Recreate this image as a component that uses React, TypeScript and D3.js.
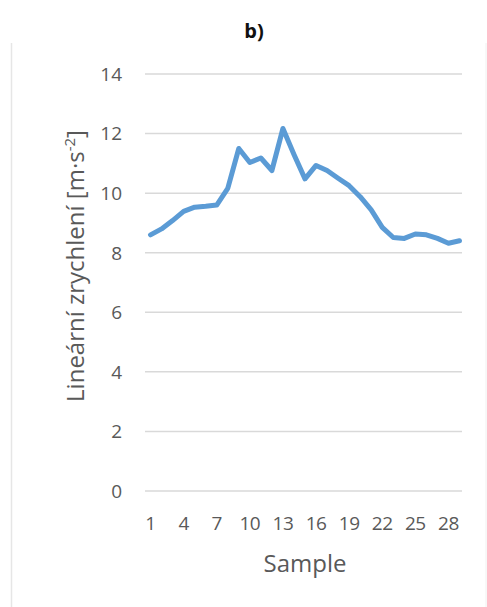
import React from "react";
import * as d3 from "d3";

const samples: number[] = Array.from({ length: 29 }, (_, i) => i + 1);
const values: number[] = [
  8.6, 8.8, 9.08, 9.39, 9.53, 9.56, 9.6, 10.16, 11.5, 11.03, 11.18, 10.76, 12.17,
  11.3, 10.48, 10.93, 10.76, 10.5, 10.25, 9.88, 9.44, 8.85, 8.51, 8.48, 8.63, 8.6,
  8.48, 8.32, 8.4,
];
const yTicks: number[] = [0, 2, 4, 6, 8, 10, 12, 14];
const xTickLabels: number[] = [1, 4, 7, 10, 13, 16, 19, 22, 25, 28];
const title = "b)";
const xTitle = "Sample";
const yTitle = "Lineární zrychlení [m·s";
const yTitleSup = "-2";

export default function App() {
  const W = 487;
  const H = 607;
  const left = 145;
  const right = 465;
  const top = 74;
  const bottom = 491;

  const x = d3
    .scaleBand<number>()
    .domain(samples)
    .range([left, right])
    .padding(0);
  const y = d3.scaleLinear().domain([0, 14]).range([bottom, top]);
  const cx = (s: number) => (x(s) as number) + x.bandwidth() / 2;

  const line = d3
    .line<number>()
    .x((_, i) => cx(samples[i]))
    .y((d) => y(d))
    .curve(d3.curveLinear);

  const font = "'Open Sans', 'Noto Sans', sans-serif";
  const tickColor = "#595959";

  return (
    <svg
      width={W}
      height={H}
      style={{ position: "absolute", left: 0, top: 0, background: "#fff" }}
    >
      <rect x={0} y={0} width={W} height={H} fill="#fff" />
      <line x1={11.5} x2={11.5} y1={43} y2={H} stroke="#e6e6e6" strokeWidth={1.5} />
      <line x1={486} x2={486} y1={43} y2={H} stroke="#f0f0f0" strokeWidth={1} />
      <text
        x={254}
        y={38}
        textAnchor="middle"
        fontFamily={font}
        fontWeight="bold"
        fontSize={20}
        fill="#111"
      >
        {title}
      </text>
      {yTicks.map((t) => (
        <g key={t}>
          <line
            x1={left}
            x2={right - 3}
            y1={y(t)}
            y2={y(t)}
            stroke="#d9d9d9"
            strokeWidth={1.5}
          />
          <text
            x={122}
            y={y(t)}
            dy="0.36em"
            textAnchor="end"
            fontFamily={font}
            fontSize={19}
            fill={tickColor}
          >
            {t}
          </text>
        </g>
      ))}
      {xTickLabels.map((s) => (
        <text
          key={s}
          x={cx(s)}
          y={530}
          textAnchor="middle"
          fontFamily={font}
          fontSize={19}
          letterSpacing={-0.5}
          fill={tickColor}
        >
          {s}
        </text>
      ))}
      <text
        x={305}
        y={572}
        textAnchor="middle"
        fontFamily={font}
        fontSize={24}
        fill={tickColor}
      >
        {xTitle}
      </text>
      <text
        transform={`translate(84,266) rotate(-90)`}
        textAnchor="middle"
        fontFamily={font}
        fontSize={24}
        fill={tickColor}
      >
        {yTitle}
        <tspan fontSize={15} dy={-9}>
          {yTitleSup}
        </tspan>
        <tspan dy={9}>]</tspan>
      </text>
      <path
        d={line(values) || ""}
        fill="none"
        stroke="#5b9bd5"
        strokeWidth={5}
        strokeLinejoin="round"
        strokeLinecap="round"
      />
    </svg>
  );
}
